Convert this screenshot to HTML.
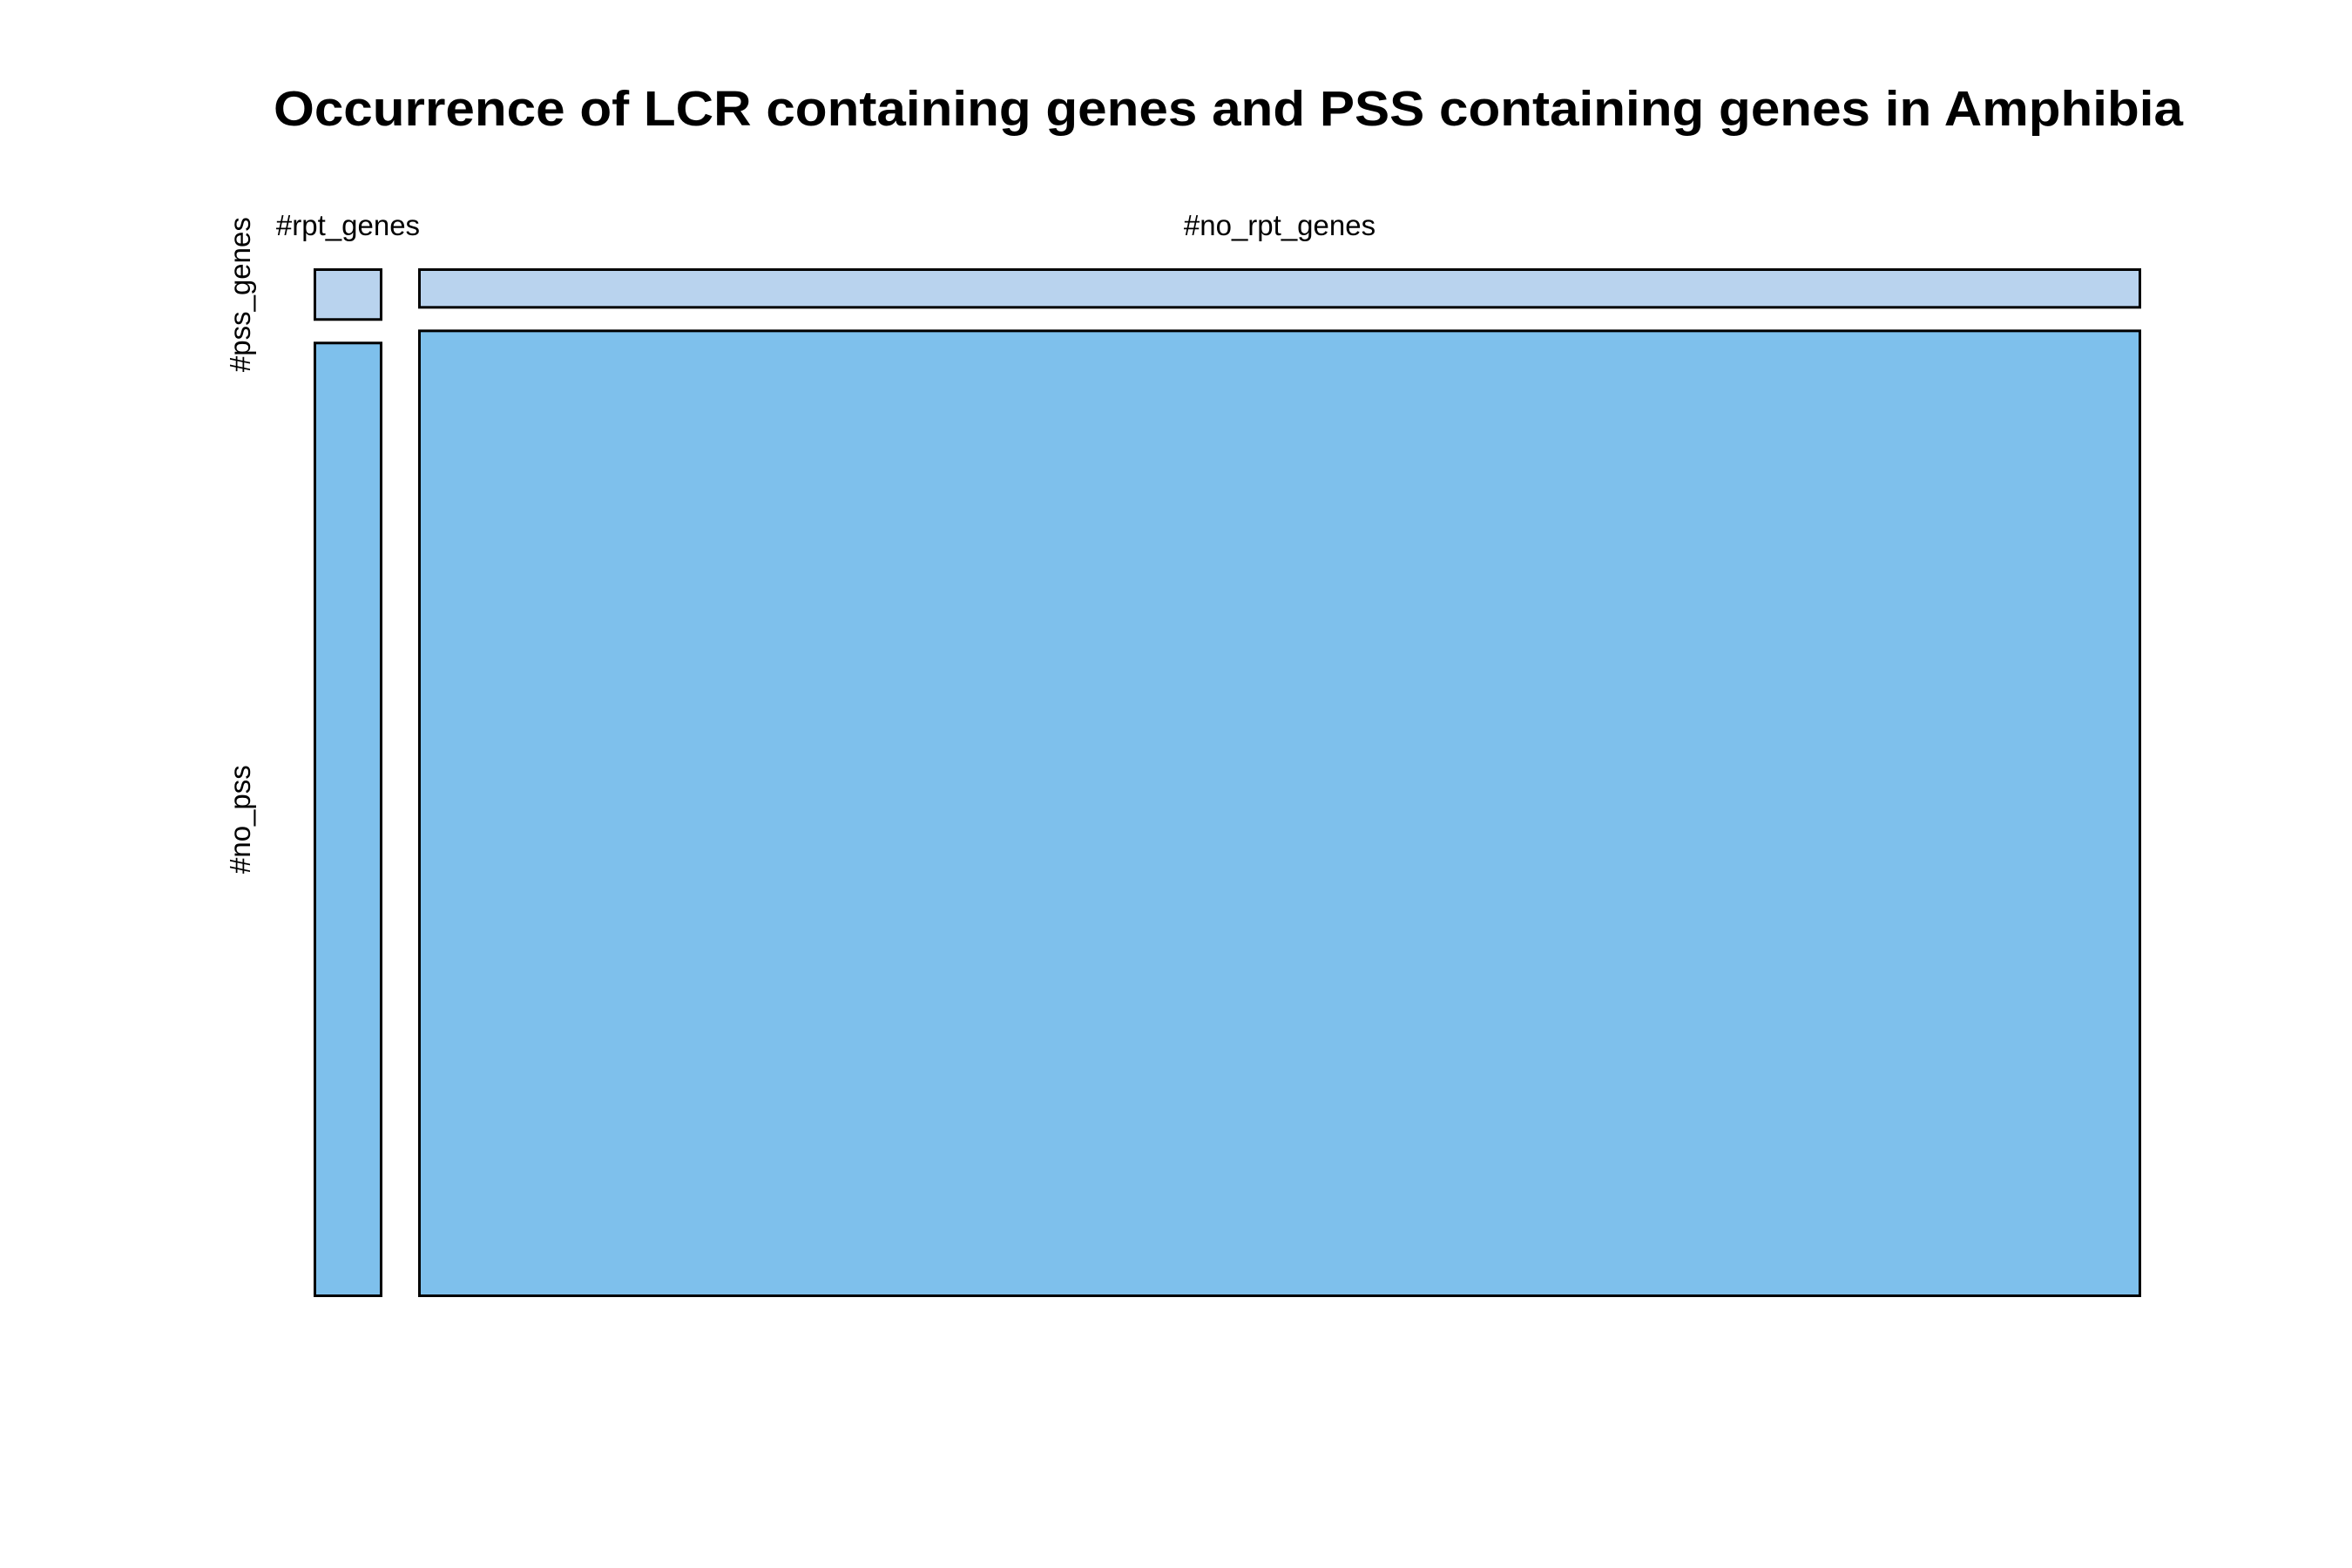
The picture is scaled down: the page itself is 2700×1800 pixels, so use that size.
<!DOCTYPE html>
<html><head><meta charset="utf-8"><style>html,body{margin:0;padding:0;background:#fff}svg{display:block}</style></head>
<body>
<svg id="chart" width="2700" height="1800" xmlns="http://www.w3.org/2000/svg" font-family="Liberation Sans, Arial, sans-serif">
<rect width="2700" height="1800" fill="#fff"/>
<text x="1410" y="144" text-anchor="middle" font-size="57" font-weight="bold" textLength="2192" lengthAdjust="spacingAndGlyphs">Occurrence of LCR containing genes and PSS containing genes in Amphibia</text>
<g id="marks"></g>
</svg>
<script>
const colCategories = ['#rpt_genes', '#no_rpt_genes'];
const rowCategories = ['#pss_genes', '#no_pss'];
const rptCounts = [20, 364];
const noRptCounts = [385, 9231];

const svgNS = 'http://www.w3.org/2000/svg';
const g = document.getElementById('marks');
const x0 = 360, x1 = 2458, y0 = 308, y1 = 1489, gap = 41, vgap = 24;
const colors = ['#b9d3ee', '#7ec0ec'];
const series = [rptCounts, noRptCounts];
const colTotals = series.map(s => s.reduce((a, b) => a + b, 0));
const grand = colTotals.reduce((a, b) => a + b, 0);
const availW = (x1 - x0) - gap * (series.length - 1);
const availH = (y1 - y0) - vgap * (rowCategories.length - 1);
const xScale = v => v / grand * availW;
let cx = x0;
series.forEach((col, ci) => {
  const w = xScale(colTotals[ci]);
  const lab = document.createElementNS(svgNS, 'text');
  lab.setAttribute('x', cx + w / 2);
  lab.setAttribute('y', 270);
  lab.setAttribute('text-anchor', 'middle');
  lab.setAttribute('font-size', '33');
  lab.textContent = colCategories[ci];
  
  
  g.appendChild(lab);
  let cy = y0;
  col.forEach((v, ri) => {
    const h = v / colTotals[ci] * availH;
    const r = document.createElementNS(svgNS, 'rect');
    r.setAttribute('x', cx + 1.5);
    r.setAttribute('y', cy + 1.5);
    r.setAttribute('width', w - 3);
    r.setAttribute('height', h - 3);
    r.setAttribute('fill', colors[ri]);
    r.setAttribute('stroke', '#000');
    r.setAttribute('stroke-width', '3');
    
    
    g.appendChild(r);
    if (ci === 0) {
      const t = document.createElementNS(svgNS, 'text');
      const my = cy + h / 2;
      t.setAttribute('transform', 'translate(287,' + my + ') rotate(-90)');
      t.setAttribute('text-anchor', 'middle');
      t.setAttribute('font-size', '33');
      t.textContent = rowCategories[ri];
      
      
      g.appendChild(t);
    }
    cy += h + vgap;
  });
  cx += w + gap;
});
</script>
</body></html>
